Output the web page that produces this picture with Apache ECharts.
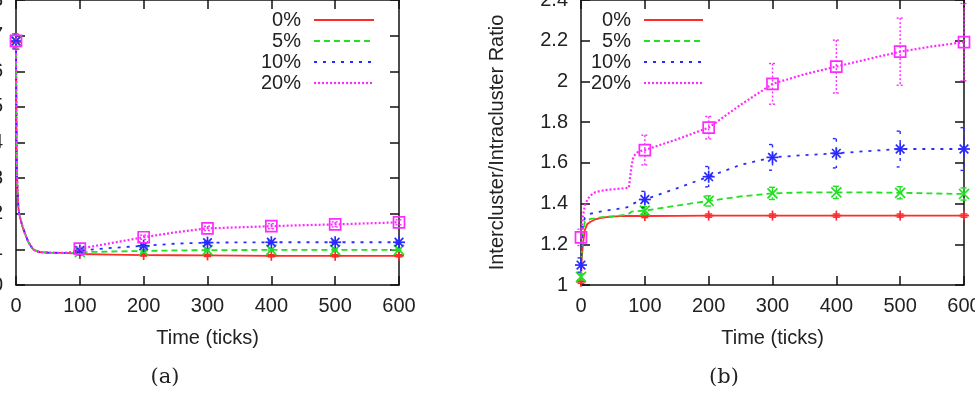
<!DOCTYPE html>
<html>
<head>
<meta charset="utf-8">
<script src="https://cdn.jsdelivr.net/npm/echarts@6/dist/echarts.min.js"></script>
<style>
  html, body { margin: 0; padding: 0; background: #fff; }
  #chart { width: 975px; height: 408px; }
</style>
</head>
<body>
<div id="chart"></div>
<script>
const FONT = 'Liberation Sans'
const seriesNames = ['0%', '5%', '10%', '20%']
const markTimes = [0, 100, 200, 300, 400, 500, 600]

// (a) 左图
const timeA = [0, 0.5, 1, 2, 3.6, 5, 7, 10, 14, 19, 23, 27, 32, 38, 50, 75, 90, 100, 150, 200, 250, 300, 350, 400, 450, 500, 550, 600]
const a0 = [6.82, 5.0, 3.6, 2.8, 2.2, 2.0, 1.85, 1.65, 1.45, 1.22, 1.1, 1.0, 0.95, 0.92, 0.91, 0.9, 0.89, 0.87, 0.855, 0.84, 0.835, 0.83, 0.825, 0.82, 0.82, 0.82, 0.82, 0.82]
const a5 = [6.84, 5.0, 3.6, 2.8, 2.2, 2.0, 1.85, 1.65, 1.45, 1.22, 1.1, 1.0, 0.95, 0.92, 0.91, 0.9, 0.9, 0.92, 0.94, 0.955, 0.97, 0.98, 0.982, 0.985, 0.985, 0.985, 0.985, 0.985]
const a10 = [6.85, 5.0, 3.6, 2.8, 2.2, 2.0, 1.85, 1.65, 1.45, 1.22, 1.1, 1.0, 0.95, 0.92, 0.91, 0.9, 0.91, 0.97, 1.04, 1.1, 1.16, 1.19, 1.195, 1.2, 1.2, 1.2, 1.2, 1.2]
const a20 = [6.85, 5.0, 3.6, 2.8, 2.2, 2.0, 1.85, 1.65, 1.45, 1.22, 1.1, 1.0, 0.95, 0.92, 0.91, 0.9, 0.93, 1.02, 1.18, 1.34, 1.48, 1.59, 1.62, 1.65, 1.68, 1.7, 1.73, 1.76]
// 误差条 (半宽)，对应 markTimes
const errA0 = [0.2, 0.03, 0.03, 0.03, 0.03, 0.03, 0.03]
const errA5 = [0.2, 0.03, 0.03, 0.03, 0.03, 0.03, 0.03]
const errA10 = [0.2, 0.03, 0.04, 0.04, 0.04, 0.04, 0.04]
const errA20 = [0.2, 0.04, 0.06, 0.06, 0.07, 0.07, 0.07]

// (b) 右图
const timeB = [0, 1, 3, 6, 10, 15, 22, 30, 40, 50, 60, 70, 75, 77, 79, 82, 87, 93, 100, 150, 200, 250, 300, 350, 400, 450, 500, 550, 600]
const b0 = [1.016, 1.12, 1.2, 1.27, 1.3, 1.311, 1.322, 1.328, 1.333, 1.336, 1.338, 1.339, 1.339, 1.339, 1.339, 1.339, 1.339, 1.339, 1.339, 1.34, 1.341, 1.341, 1.341, 1.341, 1.341, 1.341, 1.341, 1.341, 1.341]
const b5 = [1.04, 1.15, 1.25, 1.311, 1.318, 1.325, 1.328, 1.332, 1.336, 1.338, 1.341, 1.345, 1.35, 1.358, 1.36, 1.362, 1.363, 1.364, 1.365, 1.39, 1.413, 1.435, 1.45, 1.455, 1.455, 1.455, 1.453, 1.45, 1.447]
const b10 = [1.098, 1.2, 1.29, 1.33, 1.342, 1.35, 1.355, 1.36, 1.366, 1.37, 1.375, 1.38, 1.385, 1.39, 1.395, 1.4, 1.407, 1.413, 1.42, 1.475, 1.532, 1.59, 1.627, 1.638, 1.647, 1.658, 1.668, 1.668, 1.668]
const b20 = [1.234, 1.27, 1.34, 1.39, 1.42, 1.44, 1.455, 1.462, 1.467, 1.47, 1.473, 1.476, 1.478, 1.485, 1.58, 1.63, 1.65, 1.658, 1.663, 1.715, 1.773, 1.885, 1.988, 2.035, 2.073, 2.11, 2.146, 2.172, 2.193]
const errB0 = [0.008, 0.008, 0.008, 0.008, 0.008, 0.008, 0.008]
const errB5 = [0.015, 0.02, 0.025, 0.03, 0.03, 0.03, 0.03]
const errB10 = [0.035, 0.04, 0.05, 0.063, 0.072, 0.088, 0.105]
const errB20 = [0.04, 0.073, 0.055, 0.1, 0.13, 0.165, 0.19]

const colors = ['#ff2a2a', '#22e022', '#2a2aff', '#ff2aff']
const dashes = [null, [6, 4], [3, 6], [2, 2]]
const widths = [1.8, 1.8, 1.8, 2.2]
const shapes = ['plus', 'cross', 'star', 'square']

/** 时间 + 数值 -> 折线数据 */
function toPairs(times, values) {
  return times.map((t, i) => [t, values[i]])
}

/** 取每 100 tick 的点 + 误差 */
function toMarks(times, values, errs) {
  return markTimes.map((t, i) => [t, values[times.indexOf(t)], errs[i]])
}

/** 误差条 + 点形状 */
function markRender(shape, color, dash) {
  return function (params, api) {
    const t = api.value(0)
    const v = api.value(1)
    const e = api.value(2)
    const p = api.coord([t, v])
    const hi = api.coord([t, v + e])
    const lo = api.coord([t, v - e])
    const barStyle = { stroke: color, lineWidth: 1.4, lineDash: dash, fill: 'none' }
    const cap = 3.5
    const children = [
      { type: 'line', shape: { x1: p[0], y1: hi[1], x2: p[0], y2: lo[1] }, style: barStyle },
      { type: 'line', shape: { x1: p[0] - cap, y1: hi[1], x2: p[0] + cap, y2: hi[1] }, style: barStyle },
      { type: 'line', shape: { x1: p[0] - cap, y1: lo[1], x2: p[0] + cap, y2: lo[1] }, style: barStyle },
    ]
    const st = { stroke: color, lineWidth: 1.7, fill: 'none' }
    const s = shape === 'star' ? 6 : 5
    if (shape === 'plus' || shape === 'star') {
      children.push({ type: 'line', shape: { x1: p[0] - s, y1: p[1], x2: p[0] + s, y2: p[1] }, style: st })
      children.push({ type: 'line', shape: { x1: p[0], y1: p[1] - s, x2: p[0], y2: p[1] + s }, style: st })
    }
    if (shape === 'cross' || shape === 'star') {
      const d = shape === 'star' ? 4.3 : 5
      children.push({ type: 'line', shape: { x1: p[0] - d, y1: p[1] - d, x2: p[0] + d, y2: p[1] + d }, style: st })
      children.push({ type: 'line', shape: { x1: p[0] - d, y1: p[1] + d, x2: p[0] + d, y2: p[1] - d }, style: st })
    }
    if (shape === 'square') {
      children.push({ type: 'rect', shape: { x: p[0] - 5.5, y: p[1] - 5.5, width: 11, height: 11 }, style: st })
    }
    return { type: 'group', children }
  }
}

const lineColor = '#111'
const textStyle = { color: '#222', fontSize: 20, fontFamily: FONT }

function makeX(gridIndex, top) {
  return {
    type: 'value',
    gridIndex,
    position: top ? 'top' : 'bottom',
    min: 0,
    max: 600,
    interval: 100,
    name: top ? '' : 'Time (ticks)',
    nameLocation: 'middle',
    nameGap: 43,
    nameTextStyle: textStyle,
    axisLine: { show: true, onZero: false, lineStyle: { color: lineColor, width: 1.5 } },
    axisTick: { show: true, inside: true, length: 9, lineStyle: { color: lineColor, width: 1.5 } },
    axisLabel: { show: !top, margin: 11, ...textStyle },
    splitLine: { show: false },
  }
}

function makeY(gridIndex, right, min, max, interval, name) {
  return {
    type: 'value',
    gridIndex,
    position: right ? 'right' : 'left',
    min,
    max,
    interval,
    name: right ? '' : name,
    nameLocation: 'middle',
    nameGap: 74,
    nameTextStyle: textStyle,
    axisLine: { show: true, onZero: false, lineStyle: { color: lineColor, width: 1.5 } },
    axisTick: { show: true, inside: true, length: 9, lineStyle: { color: lineColor, width: 1.5 } },
    axisLabel: { show: !right, margin: 13, ...textStyle },
    splitLine: { show: false },
  }
}

const dataA = [a0, a5, a10, a20]
const errA = [errA0, errA5, errA10, errA20]
const dataB = [b0, b5, b10, b20]
const errB = [errB0, errB5, errB10, errB20]

const series = []
;[[timeA, dataA, errA, 0], [timeB, dataB, errB, 1]].forEach(([times, data, errs, g]) => {
  data.forEach((vals, i) => {
    series.push({
      name: seriesNames[i],
      type: 'line',
      xAxisIndex: g * 2,
      yAxisIndex: g * 2,
      data: toPairs(times, vals),
      showSymbol: false,
      symbol: 'none',
      lineStyle: { color: colors[i], width: widths[i], type: dashes[i] || 'solid' },
      z: 2 + i,
    })
    series.push({
      type: 'custom',
      xAxisIndex: g * 2,
      yAxisIndex: g * 2,
      data: toMarks(times, vals, errs[i]),
      renderItem: markRender(shapes[i], colors[i], dashes[i]),
      clip: false,
      z: 6 + i,
    })
  })
})

/** 图例 (gnuplot 风格：文字在左，线在右) */
function legendGraphics(textRight, lineX1, lineX2) {
  const rows = [20, 41, 62, 83]
  const out = []
  rows.forEach((y, i) => {
    out.push({
      type: 'text',
      x: textRight,
      y,
      style: { text: seriesNames[i], fill: '#222', font: `20px "${FONT}"`, align: 'right', verticalAlign: 'middle', textAlign: 'right', textVerticalAlign: 'middle' },
      z: 20,
    })
    out.push({
      type: 'line',
      shape: { x1: lineX1, y1: y, x2: lineX2, y2: y },
      style: { stroke: colors[i], lineWidth: widths[i], lineDash: dashes[i] },
      z: 20,
    })
  })
  return out
}

const chart = echarts.init(document.getElementById('chart'), null, { renderer: 'canvas' })
chart.setOption({
  animation: false,
  backgroundColor: '#fff',
  grid: [
    { left: 16, top: 0, width: 383, height: 285, outerBoundsMode: 'none', containLabel: false },
    { left: 581, top: 0, width: 383, height: 285, outerBoundsMode: 'none', containLabel: false },
  ],
  xAxis: [makeX(0, false), makeX(0, true), makeX(1, false), makeX(1, true)],
  yAxis: [
    makeY(0, false, 0, 8, 1, ''),
    makeY(0, true, 0, 8, 1, ''),
    makeY(1, false, 1, 2.4, 0.2, 'Intercluster/Intracluster Ratio'),
    makeY(1, true, 1, 2.4, 0.2, ''),
  ],
  series,
  graphic: [
    ...legendGraphics(301, 314, 374),
    ...legendGraphics(631, 644, 703),
    {
      type: 'text', x: 165, y: 378,
      style: { text: '(a)', fill: '#222', font: '21px "DejaVu Serif"', align: 'center', verticalAlign: 'middle', textAlign: 'center', textVerticalAlign: 'middle' },
    },
    {
      type: 'text', x: 724, y: 378,
      style: { text: '(b)', fill: '#222', font: '21px "DejaVu Serif"', align: 'center', verticalAlign: 'middle', textAlign: 'center', textVerticalAlign: 'middle' },
    },
  ],
})
</script>
</body>
</html>
